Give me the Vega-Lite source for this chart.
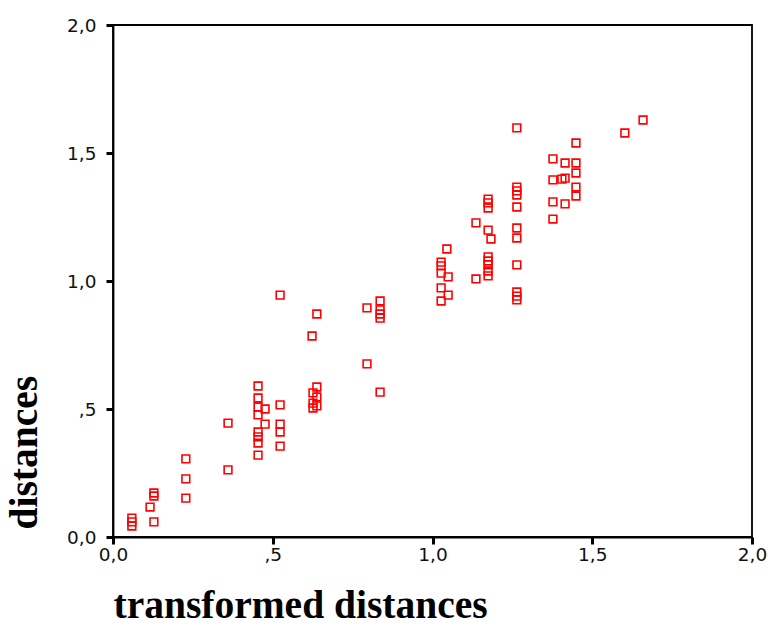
{
  "$schema": "https://vega.github.io/schema/vega-lite/v6.json",
  "autosize": "none",
  "padding": {"left": 113, "top": 25, "right": 16, "bottom": 89},
  "width": 639,
  "height": 512,
  "background": "white",
  "config": {
    "view": {"stroke": "#000", "strokeWidth": 1.8},
    "axis": {"grid": false, "domainColor": "#000", "domainWidth": 1.8, "tickColor": "#000", "tickWidth": 3, "tickSize": 7,
      "labelFont": "DejaVu Sans", "labelFontSize": 18.5, "labelColor": "#111", "labelFlush": false, "labelOverlap": false,
      "titleFont": "Liberation Serif", "titleFontWeight": "bold", "titleFontSize": 39.5, "titleColor": "#000"}
  },
  "data": {"values": [
    {"t":0.059,"d":0.074},{"t":0.059,"d":0.059},{"t":0.059,"d":0.043},
    {"t":0.128,"d":0.059},{"t":0.116,"d":0.117},{"t":0.128,"d":0.172},{"t":0.128,"d":0.160},
    {"t":0.228,"d":0.305},{"t":0.228,"d":0.227},{"t":0.228,"d":0.152},
    {"t":0.360,"d":0.262},{"t":0.360,"d":0.445},
    {"t":0.454,"d":0.590},{"t":0.454,"d":0.543},{"t":0.454,"d":0.508},{"t":0.454,"d":0.477},{"t":0.454,"d":0.410},{"t":0.454,"d":0.391},{"t":0.454,"d":0.367},{"t":0.454,"d":0.320},
    {"t":0.476,"d":0.500},{"t":0.476,"d":0.441},
    {"t":0.523,"d":0.516},{"t":0.523,"d":0.441},{"t":0.523,"d":0.410},{"t":0.523,"d":0.355},
    {"t":0.523,"d":0.945},
    {"t":0.638,"d":0.871},{"t":0.623,"d":0.785},
    {"t":0.638,"d":0.586},{"t":0.626,"d":0.563},{"t":0.638,"d":0.547},{"t":0.626,"d":0.523},{"t":0.638,"d":0.512},{"t":0.626,"d":0.504},
    {"t":0.795,"d":0.895},{"t":0.836,"d":0.922},{"t":0.836,"d":0.887},{"t":0.836,"d":0.871},{"t":0.836,"d":0.855},
    {"t":0.795,"d":0.676},{"t":0.836,"d":0.566},
    {"t":1.045,"d":1.125},{"t":1.027,"d":1.074},{"t":1.027,"d":1.059},{"t":1.027,"d":1.031},{"t":1.049,"d":1.016},{"t":1.027,"d":0.973},{"t":1.049,"d":0.945},{"t":1.027,"d":0.922},
    {"t":1.136,"d":1.227},{"t":1.174,"d":1.199},{"t":1.183,"d":1.164},{"t":1.174,"d":1.320},{"t":1.174,"d":1.305},{"t":1.174,"d":1.285},
    {"t":1.174,"d":1.094},{"t":1.174,"d":1.078},{"t":1.174,"d":1.063},{"t":1.174,"d":1.039},{"t":1.174,"d":1.020},
    {"t":1.136,"d":1.008},
    {"t":1.264,"d":1.598},{"t":1.264,"d":1.367},{"t":1.264,"d":1.352},{"t":1.264,"d":1.336},{"t":1.264,"d":1.289},{"t":1.264,"d":1.207},{"t":1.264,"d":1.168},{"t":1.264,"d":1.063},{"t":1.264,"d":0.957},{"t":1.264,"d":0.941},{"t":1.264,"d":0.926},
    {"t":1.377,"d":1.477},{"t":1.377,"d":1.395},{"t":1.377,"d":1.309},{"t":1.377,"d":1.242},
    {"t":1.415,"d":1.461},{"t":1.415,"d":1.402},{"t":1.405,"d":1.398},{"t":1.415,"d":1.301},
    {"t":1.449,"d":1.539},{"t":1.449,"d":1.461},{"t":1.449,"d":1.422},{"t":1.449,"d":1.367},{"t":1.449,"d":1.332},
    {"t":1.602,"d":1.578},{"t":1.659,"d":1.629}
  ]},
  "mark": {"type": "point", "shape": "square", "filled": false, "stroke": "#ff0000", "strokeWidth": 1.6, "size": 60, "opacity": 1},
  "encoding": {
    "x": {"field": "t", "type": "quantitative", "title": "transformed distances",
      "scale": {"domain": [0, 2], "nice": false, "zero": false},
      "axis": {"values": [0, 0.5, 1, 1.5, 2], "labelPadding": 1, "titlePadding": 23, "titleAnchor": "start",
        "labelExpr": "datum.value == 0.5 ? ',5' : replace(format(datum.value, '.1f'), '.', ',')"}},
    "y": {"field": "d", "type": "quantitative", "title": "distances",
      "scale": {"domain": [0, 2], "nice": false, "zero": false},
      "axis": {"values": [0, 0.5, 1, 1.5, 2], "labelPadding": 10, "titlePadding": 22, "titleAnchor": "start", "titleY": 504,
        "labelExpr": "datum.value == 0.5 ? ',5' : replace(format(datum.value, '.1f'), '.', ',')"}}
  }
}
